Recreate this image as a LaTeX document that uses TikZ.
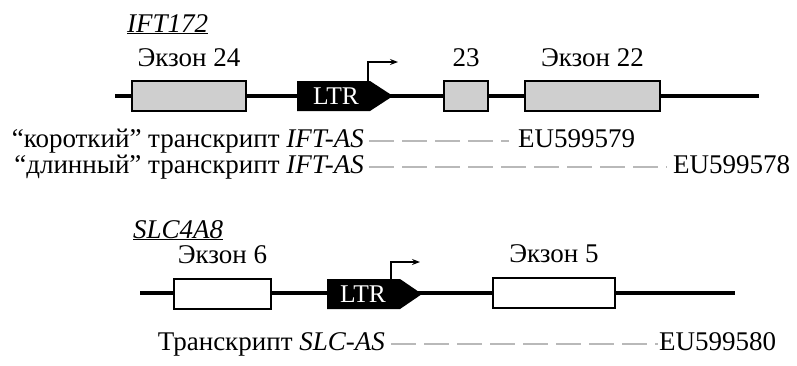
\documentclass[tikz,border=0pt]{standalone}
\usepackage{fontspec}
\setmainfont{Liberation Serif}
\usetikzlibrary{arrows.meta}

\tikzset{
  gene/.style={line width=4.5pt},
  exon/.style={draw, line width=1.3pt, minimum height=30pt, inner sep=0pt, fill=white},
  greyexon/.style={exon, fill=gray!38},
  ltrtext/.style={text=white, inner sep=0pt, font=\fontsize{25.5}{26}\selectfont},
  prom/.style={line width=1.2pt, -{Stealth[length=8pt,width=6pt]}},
  transcr/.style={line width=2pt, gray!55, dash pattern=on 25pt off 8pt},
  lbl/.style={font=\fontsize{27}{30}\selectfont, inner sep=0pt},
}

\begin{document}
\begin{tikzpicture}[x=1pt,y=-1pt]
  \useasboundingbox (0,0) rectangle (797,365);
  % IFT172
  \node[lbl, anchor=base west] (ift) at (127,32) {\underline{\textit{IFT172}}};
  \coordinate (g1a) at (115,96);
  \coordinate (g1b) at (759,96);
  \draw[gene] (g1a) -- (g1b);
  \node[greyexon, minimum width=114pt] (e24) at (189,96) {};
  \node[greyexon, minimum width=44pt] (e23) at (466,96) {};
  \node[greyexon, minimum width=135pt] (e22) at (592.5,96) {};
  \fill (297,81) -- (370,81) -- (393,96) -- (370,111) -- (297,111) -- cycle;
  \node[ltrtext] (ltr1) at (336,96) {LTR};
  \draw[prom] (368,81) |- (398,62);
  \node[lbl, anchor=base] (l24) at ([yshift=14pt]e24.north) {Экзон 24};
  \node[lbl, anchor=base] (l23) at ([yshift=14pt]e23.north) {23};
  \node[lbl, anchor=base] (l22) at ([yshift=14pt]e22.north) {Экзон 22};
  % transcripts
  \node[lbl, anchor=base east] (t1) at (364,147) {“короткий” транскрипт \textit{IFT-AS}};
  \node[lbl, anchor=base west] (eu1) at (518,147) {EU599579};
  \draw[transcr] ([xshift=5pt]t1.east) -- ([xshift=-9pt]t1.east -| eu1.west);
  \node[lbl, anchor=base east] (t2) at (364,173) {“длинный” транскрипт \textit{IFT-AS}};
  \node[lbl, anchor=base west] (eu2) at (673,173) {EU599578};
  \draw[transcr] ([xshift=5pt]t2.east) -- ([xshift=-6pt]t2.east -| eu2.west);
  % SLC4A8
  \node[lbl, anchor=base west] (slc) at (133,238) {\underline{\textit{SLC4A8}}};
  \coordinate (g2a) at (140,293);
  \coordinate (g2b) at (735,293);
  \draw[gene] (g2a) -- (g2b);
  \node[exon, minimum width=97pt] (e6) at (222.5,294) {};
  \node[exon, minimum width=122pt] (e5) at (554,293) {};
  \fill (327,279) -- (400,279) -- (422,294) -- (400,309) -- (327,309) -- cycle;
  \node[ltrtext] (ltr2) at (363,294) {LTR};
  \draw[prom] (391,279) |- (420,262);
  \node[lbl, anchor=base] (l6) at ([yshift=15pt]e6.north) {Экзон 6};
  \node[lbl, anchor=base] (l5) at ([yshift=15pt]e5.north) {Экзон 5};
  \node[lbl, anchor=base east] (t3) at (385,350) {Транскрипт \textit{SLC-AS}};
  \node[lbl, anchor=base west] (eu3) at (659,350) {EU599580};
  \draw[transcr] ([xshift=6pt]t3.east) -- ([xshift=-1pt]t3.east -| eu3.west);
\end{tikzpicture}
\end{document}
